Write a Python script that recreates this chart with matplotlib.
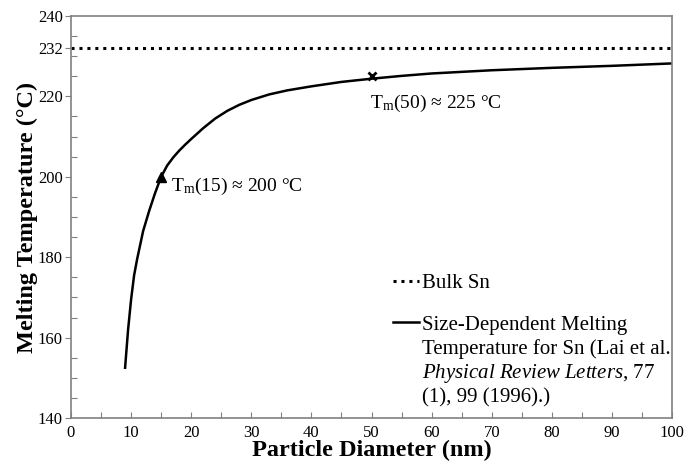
import numpy as np
import matplotlib.pyplot as plt
from matplotlib.ticker import MultipleLocator

# size-dependent melting point of Sn (Lai et al., PRL 77, 99, 1996)
diameter = [9, 9.5, 10, 10.5, 11, 11.5, 12, 13, 14, 15, 16, 17, 18, 19, 20, 22, 24, 26, 28, 30,
            33, 36, 40, 45, 50, 55, 60, 70, 80, 90, 100]
melt_temp = [152.5, 162, 169.5, 175.5, 179.5, 183, 186.5, 191.5, 196, 200, 202.8, 204.8, 206.5,
             208.0, 209.4, 212.1, 214.5, 216.4, 217.9, 219.1, 220.5, 221.5, 222.5, 223.6, 224.4,
             225.1, 225.7, 226.5, 227.1, 227.6, 228.2]
bulk_sn = 232

# highlighted points
mark_d = [15, 50]
mark_t = [200, 225]

yticks = [140, 160, 180, 200, 220, 232, 240]
xticks = list(range(0, 101, 10))

plt.rcParams["font.family"] = "Liberation Serif"
plt.rcParams["font.size"] = 14
plt.rcParams["mathtext.fontset"] = "custom"
plt.rcParams["mathtext.rm"] = "Liberation Serif"
plt.rcParams["mathtext.it"] = "Liberation Serif:italic"

fig = plt.figure(figsize=(6.84, 4.62), dpi=100)
ax = fig.add_axes([0.1038, 0.0952, 0.8787, 0.8702])

ax.axhline(bulk_sn, color="black", linestyle=(0, (1, 1.6)), linewidth=2.2, label="Bulk Sn")
ax.plot(diameter, melt_temp, color="black", linewidth=1.8, label="Size-Dependent Melting")
ax.plot(mark_d[0], mark_t[0], "^", color="black", markersize=7)
ax.plot(mark_d[1], mark_t[1], "x", color="black", markersize=6, markeredgewidth=2)

ax.text(mark_d[0] + 1.6, mark_t[0] - 2.5, r"$\mathrm{T_m}$(15) ≈ 200 °C", va="center", ha="left")
ax.text(mark_d[1] - 0.3, mark_t[1] - 6.8, r"$\mathrm{T_m}$(50) ≈ 225 °C", va="center", ha="left")

ax.set_xlim(0, 100)
ax.set_ylim(140, 240)
ax.set_xticks(xticks)
ax.set_yticks(yticks)
ax.xaxis.set_minor_locator(MultipleLocator(5))
ax.yaxis.set_minor_locator(MultipleLocator(5))
ax.tick_params(axis="both", which="major", labelsize=12)
ax.tick_params(axis="x", which="both", direction="in", length=4, width=0.8, color="#808080", pad=5)
ax.tick_params(axis="y", which="major", direction="out", length=4, width=0.8, color="#808080", pad=2)
ax.tick_params(axis="y", which="minor", direction="in", length=4, width=0.8, color="#808080")
for s in ax.spines.values():
    s.set_color("#808080")
    s.set_linewidth(1.2)

ax.set_xlabel("Particle Diameter (nm)", fontweight="bold", fontsize=17.5, va="center")
ax.xaxis.set_label_coords(0.5, -0.081)
ax.set_ylabel("Melting Temperature (°C)", fontweight="bold", fontsize=17.5, labelpad=0)

leg = ax.legend(loc="upper left", bbox_to_anchor=(0.535, 0.3585), frameon=False,
                borderpad=0, borderaxespad=0, handlelength=1.25, handletextpad=0.18,
                labelspacing=1.04, fontsize=15)

# remaining lines of the second legend label
fig.canvas.draw()
bb = leg.get_texts()[1].get_window_extent()
x0, y0 = fig.transFigure.inverted().transform((bb.x0, bb.y0))
fig.text(x0, y0 - 0.0085, "Temperature for Sn (Lai et al.\n"
         r"$\mathit{Physical\ Review\ Letters}$, 77" "\n(1), 99 (1996).)",
         ha="left", va="top", fontsize=15, linespacing=1.23)

fig.savefig("out.png", dpi=100)
